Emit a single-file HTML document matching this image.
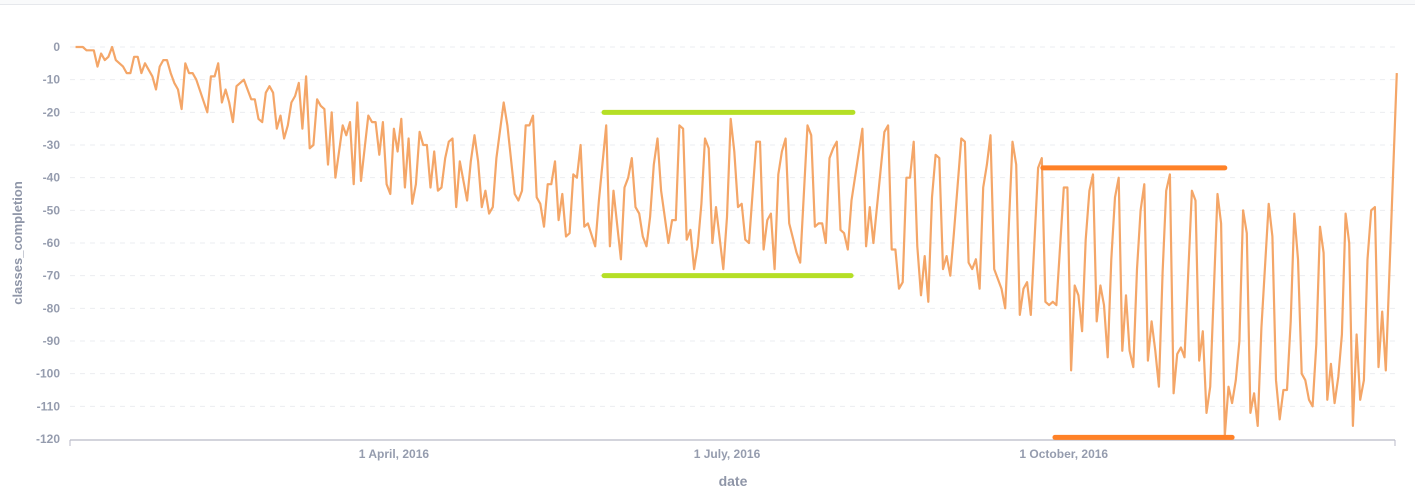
<!DOCTYPE html>
<html><head><meta charset="utf-8">
<style>
body{margin:0;background:#fff;width:1415px;height:501px;overflow:hidden;font-family:"Liberation Sans",sans-serif;}
#topbar{position:absolute;left:0;top:0;width:1415px;height:4px;background:#f9fafb;border-bottom:1px solid #e6e8ec;}
svg{position:absolute;left:0;top:0;}
</style></head>
<body>
<div id="topbar"></div>
<svg id="chart" width="1415" height="501"></svg>
<script>
const yTicks=[0,-10,-20,-30,-40,-50,-60,-70,-80,-90,-100,-110,-120];
const xTickDays=[91,182,274];
const xTickLabels=["1 April, 2016","1 July, 2016","1 October, 2016"];
const days1=[4,6,7,9,10,11,12,13,14,15,17,18,19,20,21,22,23,25,26,27,28,29,30,31,32,33,34,35,36,37,40,41,42,43,44,45,46,47,48];
const vals1=[0,0,-1,-1,-6,-2,-4,-3,0,-4,-6,-8,-8,-3,-3,-8,-5,-9,-13,-6,-4,-4,-8,-11,-13,-19,-5,-8,-8,-10,-20,-9,-9,-5,-17,-13,-17,-23,-12];
const days2=[50,52,53,54,55,56,57,58,59,60,61,62,63,64,65,66,67,68,69,70,71,72,73,74,75,77,78,79,80,81,82,84,85,86,87,88,89,90,91,92,93];
const vals2=[-10,-16,-16,-22,-23,-14,-12,-14,-25,-21,-28,-24,-17,-15,-11,-25,-9,-31,-30,-16,-18,-19,-36,-20,-40,-24,-27,-23,-42,-17,-41,-21,-23,-23,-33,-23,-42,-45,-25,-32,-22];
const days3=[94,95,96,97,98,99,100,101,102,103,104,105,106,107,108,109,111,112,113,114,115,116,117,118,119,121,122,124,125,126,127,128,129,130,131,132,133,134,135,136,137,138,139,140,141,142];
const vals3=[-43,-28,-48,-42,-26,-30,-30,-43,-32,-44,-43,-34,-29,-28,-49,-35,-47,-35,-27,-35,-49,-44,-51,-49,-34,-17,-24,-45,-47,-44,-24,-24,-21,-46,-48,-55,-42,-42,-35,-53,-45,-58,-57,-39,-40,-30];
const days4=[143,144,146,147,149,150,151,153,154,155,156,157,158,159,160,161,162,163,164,166,167,168,169,170,171,172,173,174,175,176,177,178,179,181,182,183,184,185,186,187,188,190,191];
const vals4=[-55,-54,-61,-47,-24,-61,-44,-65,-43,-40,-34,-49,-51,-58,-61,-52,-36,-28,-44,-60,-53,-53,-24,-25,-59,-56,-68,-61,-48,-28,-31,-60,-49,-68,-52,-22,-32,-49,-48,-59,-60,-29,-29];
const days5=[192,193,194,195,196,197,198,199,201,202,204,205,206,207,208,209,210,211,212,213,214,215,216,219,220,221,222,225,226,227,228,229,230,231,232,233,234,235,236,237,238,239,240,241,242,243,244];
const vals5=[-62,-53,-51,-68,-39,-32,-28,-54,-63,-66,-24,-27,-55,-54,-54,-60,-34,-31,-29,-56,-57,-62,-47,-25,-61,-49,-60,-26,-24,-62,-62,-74,-72,-40,-40,-29,-61,-76,-64,-78,-46,-33,-34,-68,-64,-70,-57];
const days6=[246,247,248,249,250,251,252,253,254,255,257,258,260,261,262,263,264,265,267,268,269,270,271,272,274,275,276,277,278,279,280,281,282,283,284,285,286,287,288,289,290,291,292,293,294,295,296,297,298,299,300,301];
const vals6=[-28,-29,-66,-68,-65,-74,-43,-36,-27,-68,-74,-80,-29,-36,-82,-74,-72,-82,-37,-34,-78,-79,-78,-79,-43,-43,-99,-73,-76,-87,-59,-44,-39,-84,-73,-79,-95,-65,-46,-40,-93,-76,-93,-98,-68,-50,-42,-96,-84,-93,-104,-69];
const days7=[302,303,304,305,306,307,309,310,311,312,313,314,316,317,318,319,320,321,322,323,324,325,326,327,328,330,331,332,333,334,335,336,337,338,339,340,341,342,343,344,345,346,347,348,349,350,351,352,353,354,355,356,357,358,359,360,361,362,365];
const vals7=[-44,-39,-106,-94,-92,-95,-44,-47,-96,-87,-112,-104,-45,-54,-119,-104,-109,-102,-90,-50,-57,-112,-106,-116,-86,-48,-58,-102,-114,-105,-105,-84,-51,-65,-100,-102,-108,-110,-91,-55,-63,-108,-97,-109,-101,-88,-51,-60,-116,-88,-108,-102,-65,-50,-49,-98,-81,-99,-8];
const refDays=[[148.4,216.4],[148.4,215.9],[268.3,318],[271.6,320]];
const refVals=[-20,-70,-37,-119.5];
const refColors=["#b5df26","#b5df26","#ff8127","#ff8127"];

const days=[].concat(days1,days2,days3,days4,days5,days6,days7);
const vals=[].concat(vals1,vals2,vals3,vals4,vals5,vals6,vals7);
const X0=70,X1=1395,D0=2.5,D1=364.5,Y0=47,Y1=439;
function xs(d){return X0+(d-D0)/(D1-D0)*(X1-X0);}
function ys(v){return Y0+(-v)/120*(Y1-Y0);}
const NS="http://www.w3.org/2000/svg";
const svg=document.getElementById('chart');
function mk(t,a,p){const e=document.createElementNS(NS,t);for(const k in a)e.setAttribute(k,a[k]);(p||svg).appendChild(e);return e;}

yTicks.forEach(v=>{
  if(v!==-120){const g=mk('line',{x1:X0,x2:X1,y1:ys(v),y2:ys(v),stroke:'#ebedf0','stroke-dasharray':'5,5','stroke-width':1});
  
  }
  const t=mk('text',{x:60,y:ys(v)+4,'text-anchor':'end','font-size':12,'font-weight':'bold',fill:'#959cae'});
  t.textContent=v;
  
  
});
const ax=mk('line',{x1:X0,x2:X1,y1:Y1+1,y2:Y1+1,stroke:'#b9bac8','stroke-width':1.2});


[X0,X1].forEach(x=>{const tk=mk('line',{x1:x,x2:x,y1:Y1+1,y2:Y1+7,stroke:'#b9bac8'});

});
xTickDays.forEach((d,i)=>{
  const t=mk('text',{x:xs(d),y:458,'text-anchor':'middle','font-size':12,'font-weight':'bold',fill:'#959cae'});
  t.textContent=xTickLabels[i];
  
  
});
const xt=mk('text',{x:733,y:486,'text-anchor':'middle','font-size':14,'font-weight':'bold',fill:'#8f96a8'});
xt.textContent='date';


const yt=mk('text',{x:0,y:0,'text-anchor':'middle','font-size':13,'font-weight':'bold',fill:'#8f96a8',transform:'translate(22,243) rotate(-90)'});
yt.textContent='classes_completion';



const pts=days.map((d,i)=>xs(d).toFixed(1)+','+ys(vals[i]).toFixed(1)).join(' ');
const ln=mk('polyline',{points:pts,fill:'none',stroke:'#f4a668','stroke-width':2.2,'stroke-linejoin':'round'});



refVals.forEach((v,i)=>{
  const r=mk('line',{x1:xs(refDays[i][0]),x2:xs(refDays[i][1]),y1:ys(v),y2:ys(v),stroke:refColors[i],'stroke-width':5,'stroke-linecap':'round'});
  
  
});
</script>
</body></html>
